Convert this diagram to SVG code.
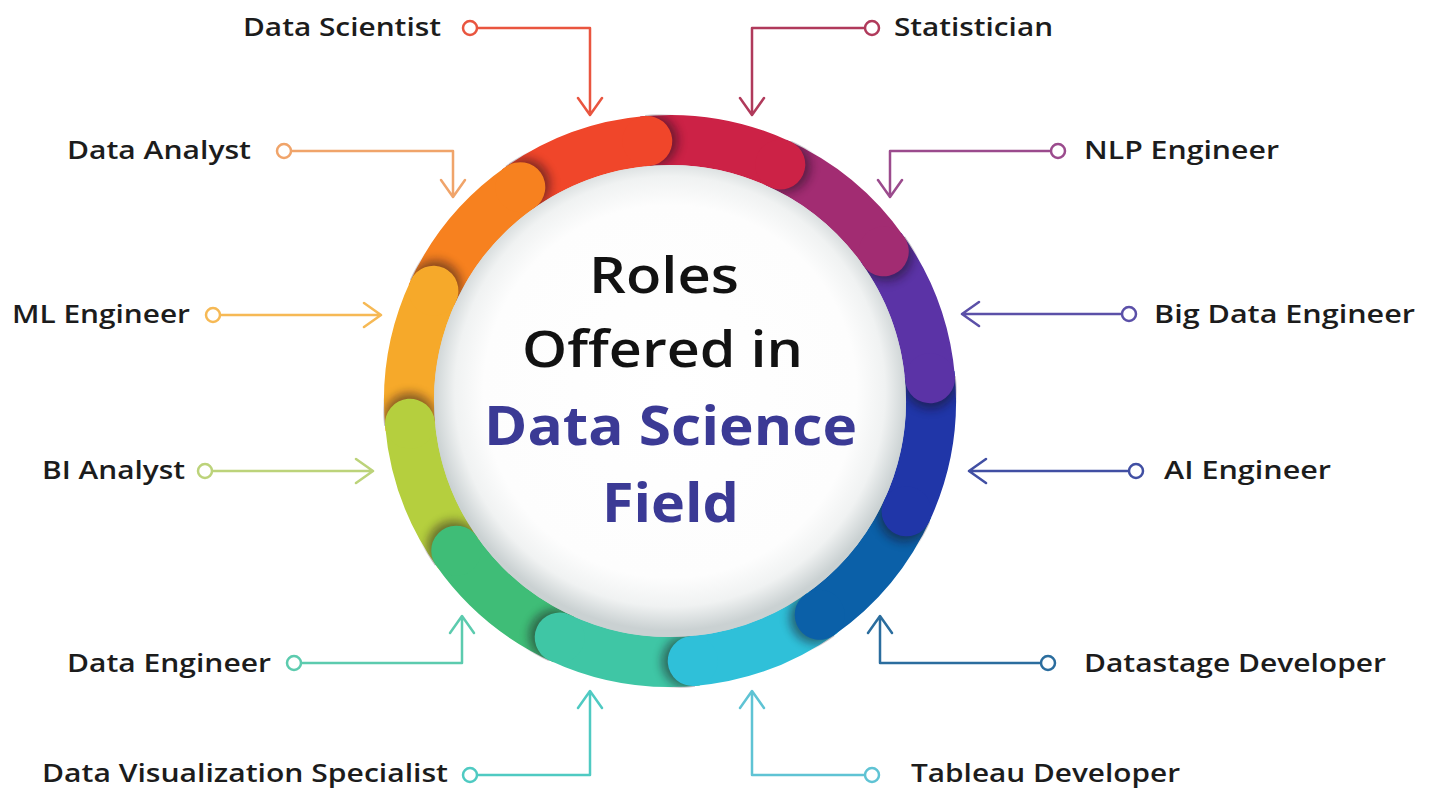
<svg xmlns="http://www.w3.org/2000/svg" xmlns:xlink="http://www.w3.org/1999/xlink" width="1433" height="789" viewBox="0 0 1433 789">
  <defs>
    <style>
      .lbl { font-family: "Open Sans", "Liberation Sans", sans-serif; font-weight: 600; font-size: 26px; fill: #1c1c1c; }
      .t1 { font-family: "Open Sans", "Liberation Sans", sans-serif; font-weight: 600; font-size: 51px; fill: #121212; }
      .t2 { font-family: "Open Sans", "Liberation Sans", sans-serif; font-weight: 700; font-size: 53px; fill: #3b3a95; }
      .con { fill: none; stroke-width: 2.5; stroke-linecap: round; stroke-linejoin: round; }
      .dot { fill: #ffffff; stroke-width: 2.5; }
      .arc { fill: none; stroke-width: 50; stroke-linecap: butt; }
    </style>
    <radialGradient id="sphere" cx="0.5" cy="0.48" r="0.5">
      <stop offset="0" stop-color="#ffffff"/>
      <stop offset="0.78" stop-color="#fdfdfd"/>
      <stop offset="0.9" stop-color="#f0f2f2"/>
      <stop offset="1" stop-color="#cad1d2"/>
    </radialGradient>
    <filter id="blur" x="-60%" y="-60%" width="220%" height="220%">
      <feGaussianBlur stdDeviation="5"/>
    </filter>
    <clipPath id="annulus">
      <path d="M670,114 A287,287 0 1 1 669.99,114 Z M670,165 A236,236 0 1 0 670.01,165 Z" clip-rule="evenodd"/>
    </clipPath>
    <clipPath id="fwd">
      <rect x="670" y="95" width="70" height="95"/>
    </clipPath>
    <path id="arc" class="arc" d="M535.57,177.28 A261,261 0 0 1 670,140"/>
    <circle id="shade" cx="675" cy="140" r="26" fill="#1a0a1a" opacity="0.5" filter="url(#blur)" clip-path="url(#fwd)"/>
  </defs>

  <rect width="1433" height="789" fill="#ffffff"/>

  <g id="center-sphere">
    <circle cx="670" cy="401" r="239" fill="url(#sphere)"/>
  </g>

  <g id="ring" clip-path="url(#annulus)" clip-rule="evenodd">
    <use href="#arc" transform="rotate(-5 670 401)" stroke="#f0462a"/>
    <use href="#arc" transform="rotate(25 670 401)" stroke="#cc2246"/>
    <use href="#arc" transform="rotate(55 670 401)" stroke="#a22c72"/>
    <use href="#arc" transform="rotate(85 670 401)" stroke="#5b33a6"/>
    <use href="#arc" transform="rotate(115 670 401)" stroke="#2036a8"/>
    <use href="#arc" transform="rotate(145 670 401)" stroke="#0b60a8"/>
    <use href="#arc" transform="rotate(175 670 401)" stroke="#2fc0d9"/>
    <use href="#arc" transform="rotate(205 670 401)" stroke="#3fc6a5"/>
    <use href="#arc" transform="rotate(235 670 401)" stroke="#3fbd77"/>
    <use href="#arc" transform="rotate(265 670 401)" stroke="#b5cf3e"/>
    <use href="#arc" transform="rotate(295 670 401)" stroke="#f6a92a"/>
    <use href="#arc" transform="rotate(325 670 401)" stroke="#f7811f"/>

    <g transform="rotate(-5 670 401)"><use href="#shade"/><circle cx="670" cy="140" r="25" fill="#f0462a"/></g>
    <g transform="rotate(25 670 401)"><use href="#shade"/><circle cx="670" cy="140" r="25" fill="#cc2246"/></g>
    <g transform="rotate(55 670 401)"><use href="#shade"/><circle cx="670" cy="140" r="25" fill="#a22c72"/></g>
    <g transform="rotate(85 670 401)"><use href="#shade"/><circle cx="670" cy="140" r="25" fill="#5b33a6"/></g>
    <g transform="rotate(115 670 401)"><use href="#shade"/><circle cx="670" cy="140" r="25" fill="#2036a8"/></g>
    <g transform="rotate(145 670 401)"><use href="#shade"/><circle cx="670" cy="140" r="25" fill="#0b60a8"/></g>
    <g transform="rotate(175 670 401)"><use href="#shade"/><circle cx="670" cy="140" r="25" fill="#2fc0d9"/></g>
    <g transform="rotate(205 670 401)"><use href="#shade"/><circle cx="670" cy="140" r="25" fill="#3fc6a5"/></g>
    <g transform="rotate(235 670 401)"><use href="#shade"/><circle cx="670" cy="140" r="25" fill="#3fbd77"/></g>
    <g transform="rotate(265 670 401)"><use href="#shade"/><circle cx="670" cy="140" r="25" fill="#b5cf3e"/></g>
    <g transform="rotate(295 670 401)"><use href="#shade"/><circle cx="670" cy="140" r="25" fill="#f6a92a"/></g>
    <g transform="rotate(325 670 401)"><use href="#shade"/><circle cx="670" cy="140" r="25" fill="#f7811f"/></g>
  </g>

  <g id="title">
    <text class="t1" x="589" y="293" textLength="150" lengthAdjust="spacingAndGlyphs">Roles</text>
    <text class="t1" x="522" y="367" textLength="281" lengthAdjust="spacingAndGlyphs">Offered in</text>
    <text class="t2" x="484" y="445" textLength="373" lengthAdjust="spacingAndGlyphs">Data Science</text>
    <text class="t2" x="602" y="522" textLength="137" lengthAdjust="spacingAndGlyphs">Field</text>
  </g>

  <g id="connectors">
    <path class="con" stroke="#e9553f" d="M477,28 H590 V114 M578,98 L590,115 L602,98"/>
    <circle class="dot" stroke="#e9553f" cx="470" cy="28" r="7"/>
    <path class="con" stroke="#b03a5b" d="M865,28 H752 V114 M740,98 L752,115 L764,98"/>
    <circle class="dot" stroke="#b03a5b" cx="872" cy="28" r="7"/>
    <path class="con" stroke="#f0a46a" d="M291,151 H453 V196 M441,180 L453,197 L465,180"/>
    <circle class="dot" stroke="#f0a46a" cx="284" cy="151" r="7"/>
    <path class="con" stroke="#9b4b8d" d="M1051,151 H890 V196 M878,180 L890,197 L902,180"/>
    <circle class="dot" stroke="#9b4b8d" cx="1058" cy="151" r="7"/>
    <path class="con" stroke="#f6b955" d="M220,315 H380 M364,303 L381,315 L364,327"/>
    <circle class="dot" stroke="#f6b955" cx="213" cy="315" r="7"/>
    <path class="con" stroke="#5b50a8" d="M1122,314 H963 M979,302 L962,314 L979,326"/>
    <circle class="dot" stroke="#5b50a8" cx="1129" cy="314" r="7"/>
    <path class="con" stroke="#bcd37a" d="M212,471 H372 M356,459 L373,471 L356,483"/>
    <circle class="dot" stroke="#bcd37a" cx="205" cy="471" r="7"/>
    <path class="con" stroke="#414fa3" d="M1129,471 H970 M986,459 L969,471 L986,483"/>
    <circle class="dot" stroke="#414fa3" cx="1136" cy="471" r="7"/>
    <path class="con" stroke="#5ccbae" d="M301,663 H462 V617 M450,633 L462,616 L474,633"/>
    <circle class="dot" stroke="#5ccbae" cx="294" cy="663" r="7"/>
    <path class="con" stroke="#2b6d9e" d="M1041,663 H880 V617 M868,633 L880,616 L892,633"/>
    <circle class="dot" stroke="#2b6d9e" cx="1048" cy="663" r="7"/>
    <path class="con" stroke="#4fcac2" d="M477,775 H590 V692 M578,708 L590,691 L602,708"/>
    <circle class="dot" stroke="#4fcac2" cx="470" cy="775" r="7"/>
    <path class="con" stroke="#5fc3d4" d="M865,775 H752 V692 M740,708 L752,691 L764,708"/>
    <circle class="dot" stroke="#5fc3d4" cx="872" cy="775" r="7"/>
  </g>

  <g id="node-data-scientist"><text class="lbl" x="243" y="36" textLength="198" lengthAdjust="spacingAndGlyphs">Data Scientist</text></g>
  <g id="node-statistician"><text class="lbl" x="894" y="36" textLength="159" lengthAdjust="spacingAndGlyphs">Statistician</text></g>
  <g id="node-data-analyst"><text class="lbl" x="67" y="159" textLength="184" lengthAdjust="spacingAndGlyphs">Data Analyst</text></g>
  <g id="node-nlp-engineer"><text class="lbl" x="1084" y="159" textLength="195" lengthAdjust="spacingAndGlyphs">NLP Engineer</text></g>
  <g id="node-ml-engineer"><text class="lbl" x="12" y="323" textLength="178" lengthAdjust="spacingAndGlyphs">ML Engineer</text></g>
  <g id="node-big-data-engineer"><text class="lbl" x="1154" y="323" textLength="261" lengthAdjust="spacingAndGlyphs">Big Data Engineer</text></g>
  <g id="node-bi-analyst"><text class="lbl" x="42" y="479" textLength="143" lengthAdjust="spacingAndGlyphs">BI Analyst</text></g>
  <g id="node-ai-engineer"><text class="lbl" x="1164" y="479" textLength="167" lengthAdjust="spacingAndGlyphs">AI Engineer</text></g>
  <g id="node-data-engineer"><text class="lbl" x="67" y="672" textLength="204" lengthAdjust="spacingAndGlyphs">Data Engineer</text></g>
  <g id="node-datastage-developer"><text class="lbl" x="1084" y="672" textLength="302" lengthAdjust="spacingAndGlyphs">Datastage Developer</text></g>
  <g id="node-data-visualization-specialist"><text class="lbl" x="42" y="782" textLength="406" lengthAdjust="spacingAndGlyphs">Data Visualization Specialist</text></g>
  <g id="node-tableau-developer"><text class="lbl" x="911" y="782" textLength="269" lengthAdjust="spacingAndGlyphs">Tableau Developer</text></g>
</svg>
